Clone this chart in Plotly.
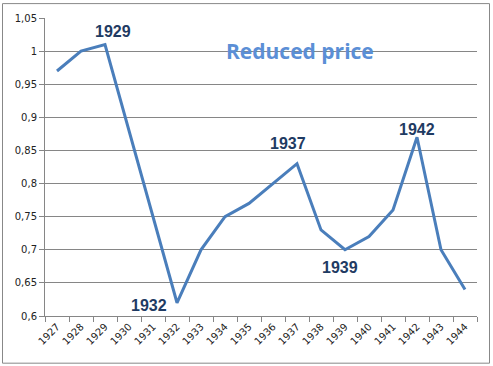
import plotly.graph_objects as go

years = [str(y) for y in range(1927, 1945)]
price = [0.97, 1.00, 1.01, 0.88, 0.75, 0.62, 0.70, 0.75, 0.77, 0.80, 0.83, 0.73, 0.70, 0.72, 0.76, 0.87, 0.70, 0.64]
y_ticks = [0.6, 0.65, 0.7, 0.75, 0.8, 0.85, 0.9, 0.95, 1.0, 1.05]
y_tick_text = ["0,6", "0,65", "0,7", "0,75", "0,8", "0,85", "0,9", "0,95", "1", "1,05"]
labelled_years = ["1929", "1932", "1937", "1939", "1942"]
label_shifts = {"1929": (8, 13), "1932": (-28, -3), "1937": (-9, 20), "1939": (-5, -18), "1942": (0, 8)}

fig = go.Figure()
fig.add_trace(go.Scatter(x=years, y=price, mode="lines",
                         line=dict(color="#4A7EBB", width=3), hoverinfo="x+y"))

for yr in labelled_years:
    i = years.index(yr)
    dx, dy = label_shifts[yr]
    fig.add_annotation(x=i, y=price[i], text="<b>%s</b>" % yr, showarrow=False,
                       xshift=dx, yshift=dy,
                       font=dict(family="Liberation Sans, Arial", size=16, color="#1F3B63"))

fig.add_annotation(xref="paper", yref="paper", x=0.59, y=0.943, text="<b>Reduced price</b>",
                   showarrow=False,
                   font=dict(family="Open Sans, Liberation Sans", size=21, color="#5B8FD6"))

# outer chart border
fig.add_shape(type="rect", xref="paper", yref="paper",
              x0=(2.5 - 45) / 432, x1=(489.5 - 45) / 432,
              y0=(316 - 363.5) / 300, y1=(316 - 1.5) / 300,
              line=dict(color="#888888", width=1), fillcolor="rgba(0,0,0,0)")

fig.update_layout(
    width=493, height=366,
    margin=dict(l=45, r=16, t=16, b=50),
    paper_bgcolor="white", plot_bgcolor="white",
    showlegend=False,
)
fig.update_xaxes(type="category", range=[-0.5, len(years) - 0.5], tickson="boundaries",
                 ticks="outside", ticklen=5,
                 tickcolor="#868686", showline=True, linecolor="#868686", linewidth=1,
                 showgrid=False, tickangle=-45,
                 tickfont=dict(family="DejaVu Sans, Verdana", size=10, color="#222222"))
fig.update_yaxes(range=[0.6, 1.05], tickvals=y_ticks, ticktext=y_tick_text,
                 ticks="outside", ticklen=5, tickcolor="#868686",
                 showline=True, linecolor="#868686", linewidth=1,
                 showgrid=True, gridcolor="#868686", gridwidth=1, zeroline=False,
                 tickfont=dict(family="DejaVu Sans, Verdana", size=10, color="#222222"))

fig.write_html("out.html", config={"displayModeBar": False},
               post_script="document.body.style.margin='0';")
